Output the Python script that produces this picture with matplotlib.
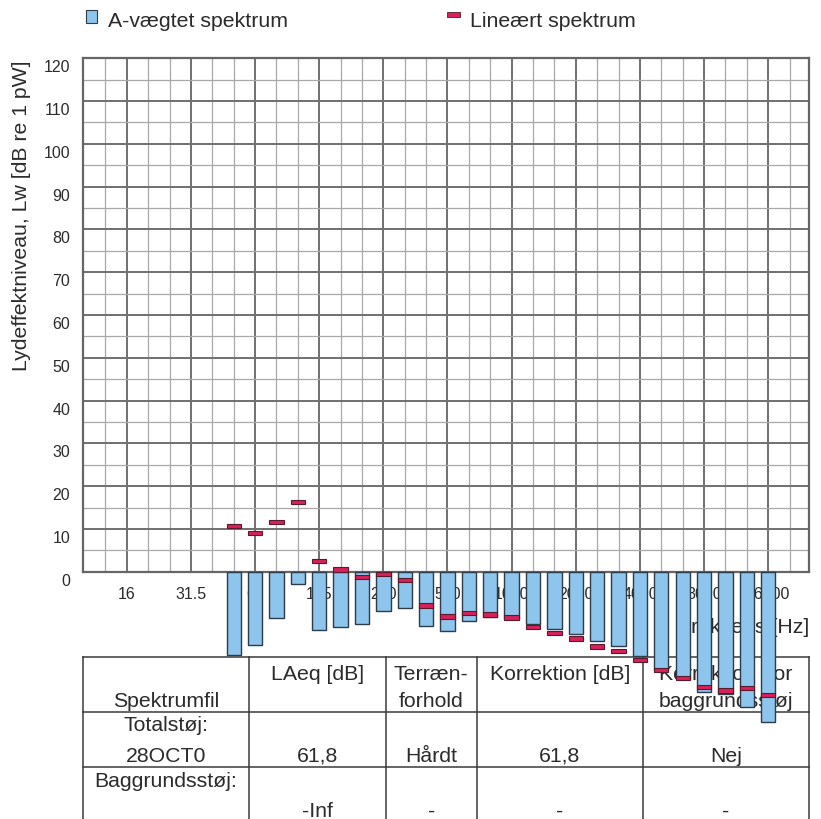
import numpy as np
import matplotlib.pyplot as plt
from matplotlib.patches import Rectangle
from matplotlib.ticker import FixedLocator
import matplotlib.transforms as mtransforms

plt.rcParams['font.family'] = ['Liberation Sans', 'DejaVu Sans']

# third-octave bands on the frequency axis, 16 Hz ... 16 kHz
all_bands = ['16', '20', '25', '31.5', '40', '50', '63', '80', '100', '125', '160',
             '200', '250', '315', '400', '500', '630', '800', '1000', '1250', '1600',
             '2000', '2500', '3150', '4000', '5000', '6300', '8000', '10000', '12500', '16000']
octave_labels = ['16', '31.5', '63', '125', '250', '500', '1000', '2000', '4000', '8000', '16000']

# measured bands
bands = ['50', '63', '80', '100', '125', '160', '200', '250', '315', '400', '500', '630',
         '800', '1000', '1250', '1600', '2000', '2500', '3150', '4000', '5000', '6300',
         '8000', '10000', '12500', '16000']
a_weighted = [-19.5, -17.2, -10.8, -2.9, -13.7, -13.0, -12.2, -9.2, -8.6, -12.6, -13.8, -11.5,
              -10.7, -11.1, -12.3, -13.5, -14.5, -16.3, -17.4, -19.7, -23.0, -25.1,
              -28.2, -28.6, -31.7, -35.1]
linear = [10.7, 9.0, 11.7, 16.3, 2.5, 0.5, -1.3, -0.5, -2.0, -7.9, -10.5, -9.6,
          -10.0, -10.7, -12.9, -14.3, -15.6, -17.5, -18.6, -20.6, -22.9, -24.8,
          -27.0, -27.8, -27.2, -28.9]

# table below the chart: each cell holds (first line, second line)
header_row = [('', 'Spektrumfil'), ('LAeq [dB]', ''), ('Terræn-', 'forhold'),
              ('Korrektion [dB]', ''), ('Korrektion  for', 'baggrundsstøj')]
total_row = [('Totalstøj:', '28OCT0'), ('', '61,8'), ('', 'Hårdt'), ('', '61,8'), ('', 'Nej')]
backgr_row = [('Baggrundsstøj:', ''), ('', '-Inf'), ('', '-'), ('', '-'), ('', '-')]

W, H = 821, 820
fig = plt.figure(figsize=(W / 100, H / 100), dpi=100)
txt_col = '#2b2b2b'

# --- main chart ---
ax = fig.add_axes([82.7 / W, 1 - 572.7 / H, 726.6 / W, 513.4 / H])
ax.set_zorder(1)

x = np.array([all_bands.index(b) for b in bands])
bar_w = 0.67
ax.bar(x, a_weighted, width=bar_w, color='#8ec5ec', edgecolor='#2e3b48',
       linewidth=1.0, zorder=4, clip_on=False)
ax.bar(x, 1.0, bottom=np.array(linear) - 0.5, width=bar_w, color='#d8215a',
       edgecolor='#5a1a2c', linewidth=0.8, zorder=5, clip_on=False)

ax.set_xlim(-2.06, 31.92)
ax.set_ylim(0, 120)

oct_pos = [all_bands.index(b) for b in octave_labels]
ax.xaxis.set_major_locator(FixedLocator(oct_pos))
ax.xaxis.set_minor_locator(FixedLocator([i for i in range(-1, 32) if i not in oct_pos]))
ax.set_xticklabels(octave_labels)
ax.yaxis.set_major_locator(FixedLocator(np.arange(0, 121, 10)))
ax.yaxis.set_minor_locator(FixedLocator(np.arange(5, 120, 10)))

ax.grid(which='major', color='#707070', linewidth=1.4)
ax.grid(which='minor', color='#a8a8a8', linewidth=0.9)
ax.tick_params(which='both', length=0, labelsize=11.5, labelcolor=txt_col)
ax.tick_params(axis='x', pad=10)
ax.tick_params(axis='y', pad=9)
shift = mtransforms.ScaledTranslation(0, -0.07, fig.dpi_scale_trans)
for lab in ax.get_yticklabels():
    lab.set_transform(lab.get_transform() + shift)
for s in ax.spines.values():
    s.set_color('#666666')
    s.set_linewidth(1.6)

ax.text(1.0, (572.7 - 633.3) / 513.4, 'Frekvens [Hz]', transform=ax.transAxes,
        ha='right', va='baseline', fontsize=15.3, color=txt_col, zorder=2)
fig.text(22 / W, 1 - 216 / H, 'Lydeffektniveau, Lw [dB re 1 pW]', rotation=90,
         ha='center', va='center', fontsize=15.3, color=txt_col)

# --- legend ---
fig.patches.append(Rectangle((86 / W, 1 - 24 / H), 11 / W, 13 / H, transform=fig.transFigure,
                             facecolor='#8ec5ec', edgecolor='#2e3b48', linewidth=0.8))
fig.text(108 / W, 1 - 26.7 / H, 'A-vægtet spektrum', ha='left', va='baseline',
         fontsize=15.3, color=txt_col)
fig.patches.append(Rectangle((447 / W, 1 - 18.2 / H), 13 / W, 5 / H, transform=fig.transFigure,
                             facecolor='#d8215a', edgecolor='#5a1a2c', linewidth=0.6))
fig.text(470 / W, 1 - 26.7 / H, 'Lineært spektrum', ha='left', va='baseline',
         fontsize=15.3, color=txt_col)

# --- table ---
tab = fig.add_axes([82.7 / W, 1 - 823.8 / H, 726.6 / W, 165.5 / H])
tab.set_zorder(0)
tab.set_xlim(0, 726.6)
tab.set_ylim(165.5, 0)
tab.axis('off')
col_edges = [0, 166.6, 303, 394, 560, 726.6]
row_edges = [0, 54.4, 110, 165.5]
for cx in col_edges:
    tab.plot([cx, cx], [0, 165.5], color='#3a3a3a', lw=1.1, clip_on=False)
for ry in row_edges:
    tab.plot([0, 726.6], [ry, ry], color='#3a3a3a', lw=1.1, clip_on=False)

baselines = [(22, 48.5), (18, 49), (18.4, 48.5)]
for r, row in enumerate([header_row, total_row, backgr_row]):
    for c, (l1, l2) in enumerate(row):
        cx = (col_edges[c] + col_edges[c + 1]) / 2
        for txt, off in zip((l1, l2), baselines[r]):
            if txt:
                tab.text(cx, row_edges[r] + off, txt, ha='center', va='baseline',
                         fontsize=15.3, color=txt_col)

fig.savefig('out.png', dpi=100)
